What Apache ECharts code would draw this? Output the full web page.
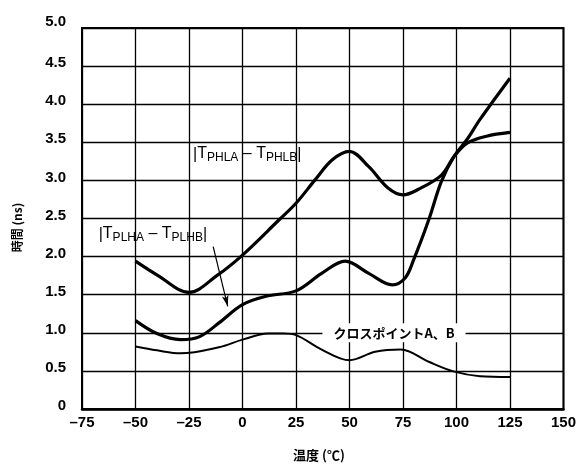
<!DOCTYPE html>
<html>
<head>
<meta charset="utf-8">
<script src="https://cdn.jsdelivr.net/npm/echarts@6/dist/echarts.min.js"></script>
<style>
  html, body { margin: 0; padding: 0; background: #fff; }
  #chart { width: 579px; height: 464px; }
</style>
</head>
<body>
<div id="chart"></div>
<script>
// Axis ticks
const xTickLabels = ['–75', '–50', '–25', '0', '25', '50', '75', '100', '125', '150'];
const yTickLabels = ['0', '0.5', '1.0', '1.5', '2.0', '2.5', '3.0', '3.5', '4.0', '4.5', '5.0'];

// |TPHLA – TPHLB| (ns) versus temperature (°C)
const phlTemps  = [-50, -40, -25, -12, 0, 17, 25, 34, 42, 50, 59, 68, 75, 82, 93, 99, 105, 114, 125];
const phlValues = [1.94, 1.76, 1.53, 1.75, 2.02, 2.48, 2.70, 3.01, 3.27, 3.38, 3.18, 2.90, 2.81, 2.88, 3.07, 3.32, 3.49, 3.58, 3.63];

// |TPLHA – TPLHB| (ns)
const plhTemps  = [-50, -40, -29, -20, -11, 0, 11, 25, 37, 48, 59, 70, 76, 80, 87, 93, 99, 105, 111, 125];
const plhValues = [1.16, 0.99, 0.91, 0.95, 1.13, 1.37, 1.48, 1.55, 1.78, 1.94, 1.78, 1.63, 1.72, 1.96, 2.48, 2.99, 3.32, 3.54, 3.80, 4.34];

// Crosspoint A, B (ns)
const crossTemps  = [-50, -40, -29, -11, 0, 12, 19, 25, 37, 50, 62, 74, 87, 99, 111, 125];
const crossValues = [0.82, 0.77, 0.73, 0.81, 0.91, 0.99, 0.99, 0.97, 0.78, 0.64, 0.75, 0.78, 0.62, 0.49, 0.43, 0.42];

const pairs = (xs, ys) => xs.map((x, i) => [x, ys[i]]);

const LATIN = '"Liberation Sans", Arial, Helvetica, sans-serif';
const CJK = '"Noto Sans CJK JP", "Noto Sans", sans-serif';

// Rich styles for the |T_sub – T_sub| annotations
const subRich = {
  t:   { fontFamily: LATIN, fontSize: 16, lineHeight: 16, verticalAlign: 'top', color: '#000' },
  d:   { fontFamily: LATIN, fontSize: 16, lineHeight: 16, verticalAlign: 'top', color: '#000' },
  s:   { fontFamily: LATIN, fontSize: 12, lineHeight: 12, verticalAlign: 'bottom', color: '#000' },
  bar: { fontFamily: LATIN, fontSize: 16, lineHeight: 18, verticalAlign: 'middle', color: '#000' }
};

const chart = echarts.init(document.getElementById('chart'), null, { renderer: 'canvas' });

chart.setOption({
  animation: false,
  backgroundColor: '#fff',
  grid: {
    left: 82, right: 13, top: 28, bottom: 55,
    show: true, borderColor: '#000', borderWidth: 2, backgroundColor: 'transparent'
  },
  xAxis: {
    type: 'value', min: -75, max: 150, interval: 25,
    axisLine: { show: true, onZero: false, lineStyle: { color: '#000', width: 2.5 } },
    axisTick: { show: false },
    splitLine: { show: true, lineStyle: { color: '#000', width: 1.3 } },
    axisLabel: {
      margin: 6, color: '#000', fontSize: 15, fontWeight: 'bold', fontFamily: LATIN,
      formatter: v => xTickLabels[Math.round((v + 75) / 25)]
    }
  },
  yAxis: {
    type: 'value', min: 0, max: 5, interval: 0.5,
    axisLine: { show: true, onZero: false, lineStyle: { color: '#000', width: 2 } },
    axisTick: { show: false },
    splitLine: { show: true, lineStyle: { color: '#000', width: 1.3 } },
    axisLabel: {
      margin: 16, color: '#000', fontSize: 15, fontWeight: 'bold', fontFamily: LATIN,
      padding: [0, 0, 6, 0],
      formatter: v => {
        const s = yTickLabels[Math.round(v / 0.5)];
        return v === 5 ? '{hi|' + s + '}' : s;
      },
      rich: {
        hi: { color: '#000', fontSize: 15, fontWeight: 'bold', fontFamily: LATIN, padding: [0, 0, 6, 0] }
      }
    }
  },
  graphic: [
    {
      type: 'text', x: 17.5, y: 227.5, rotation: Math.PI / 2,
      style: {
        text: '時間 (ns)', fill: '#000', font: 'bold 12px ' + CJK,
        align: 'center', verticalAlign: 'middle'
      }
    },
    {
      type: 'text', x: 319, y: 455.5,
      style: {
        text: '温度 (℃)', fill: '#000', font: 'bold 13px ' + CJK,
        align: 'center', verticalAlign: 'middle'
      }
    }
  ],
  series: [
    {
      name: 'PHL',
      type: 'line',
      data: pairs(phlTemps, phlValues),
      smooth: 0.35,
      showSymbol: false,
      lineStyle: { color: '#000', width: 3.2 },
      markPoint: {
        symbol: 'circle', symbolSize: 0, silent: true,
        data: [{
          coord: [-23.1, 3.334],
          label: {
            show: true, position: 'right', distance: 0,
            formatter: '{bar||}{t|T}{s|PHLA}{d| – }{t|T}{s|PHLB}{bar||}',
            rich: subRich
          }
        }]
      }
    },
    {
      name: 'PLH',
      type: 'line',
      data: pairs(plhTemps, plhValues),
      smooth: 0.35,
      showSymbol: false,
      lineStyle: { color: '#000', width: 3.2 },
      markPoint: {
        symbol: 'circle', symbolSize: 0, silent: true,
        data: [{
          coord: [-67.2, 2.283],
          label: {
            show: true, position: 'right', distance: 0,
            formatter: '{bar||}{t|T}{s|PLHA}{d| – }{t|T}{s|PLHB}{bar||}',
            rich: subRich
          }
        }]
      },
      markLine: {
        silent: true,
        symbol: ['none', 'arrow'],
        symbolSize: [5, 11],
        lineStyle: { color: '#000', width: 1.2, type: 'solid' },
        label: { show: false },
        data: [[{ coord: [-13.7, 2.13] }, { coord: [-6.9, 1.348] }]]
      }
    },
    {
      name: 'Cross',
      type: 'line',
      data: pairs(crossTemps, crossValues),
      smooth: 0.35,
      showSymbol: false,
      lineStyle: { color: '#000', width: 2 },
      markPoint: {
        symbol: 'circle', symbolSize: 0, silent: true,
        data: [{
          coord: [70.8, 1.0],
          label: {
            show: true, position: 'inside',
            formatter: 'クロスポイントA、B',
            color: '#000', fontSize: 13, fontWeight: 'bold', fontFamily: CJK,
            backgroundColor: '#fff', padding: [3, 11, 3, 11]
          }
        }]
      }
    }
  ]
});
</script>
</body>
</html>
